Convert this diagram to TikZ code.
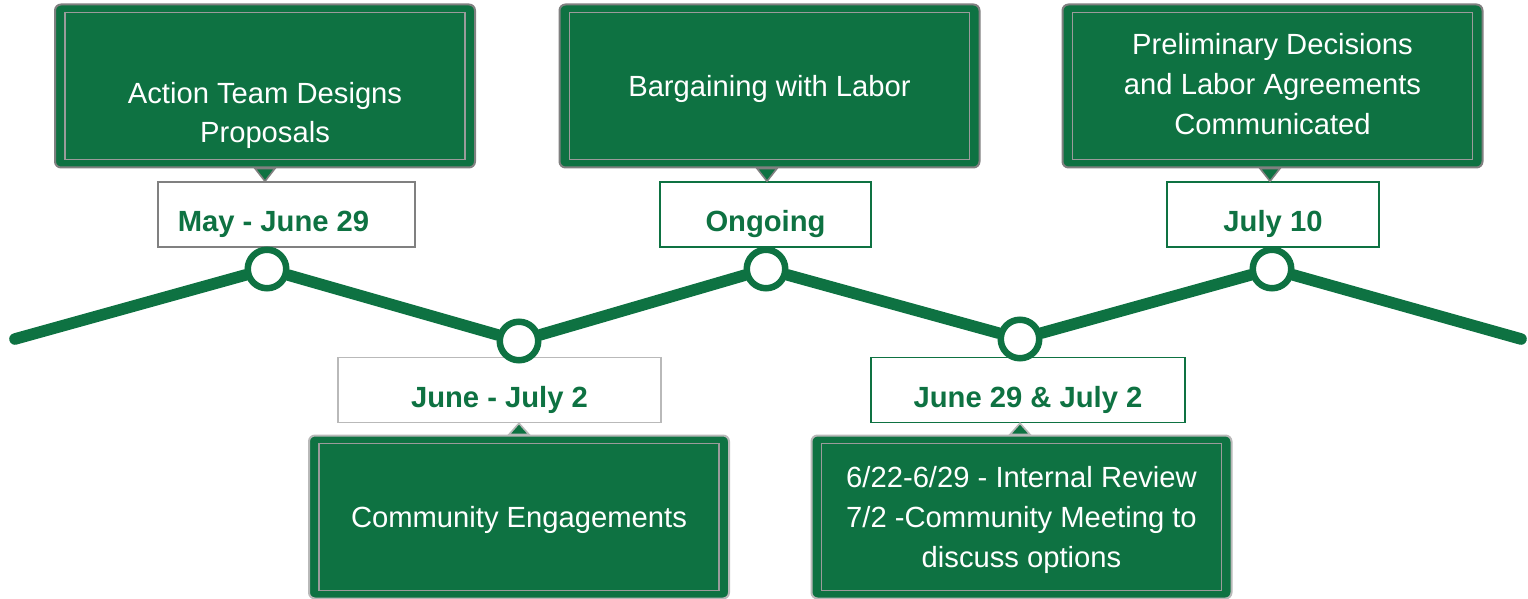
\documentclass[tikz,border=0pt]{standalone}
\usepackage{fontspec}
\setmainfont{Liberation Sans}
\usetikzlibrary{positioning}

\definecolor{tlgreen}{RGB}{14,114,66}
\definecolor{darkrim}{RGB}{128,128,128}
\definecolor{midrim}{RGB}{155,155,155}
\definecolor{lightrim}{RGB}{185,185,185}

\pgfdeclarelayer{back}
\pgfsetlayers{back,main}

\newcommand\evtfont{\fontsize{14.6}{20}\selectfont}
\newcommand\datefont{\fontsize{14.6}{20}\selectfont\bfseries}

\begin{document}
\begin{tikzpicture}[
                x=0.5pt, y=-0.5pt,
                eventbox/.style={rectangle,rounded corners=3pt,draw=darkrim,line width=1pt,fill=tlgreen,
                    minimum width=210pt,minimum height=81.5pt,text=white,align=center,font=\evtfont,
                    text depth=0pt,
                    path picture={\draw[midrim,line width=0.8pt,sharp corners]
                        ([shift={(10,8)}]path picture bounding box.north west) rectangle
                        ([shift={(-10,-8)}]path picture bounding box.south east);}},
                datebox/.style={rectangle,draw=#1,line width=0.8pt,fill=white,minimum height=32.5pt,
                    text height=17.5pt,text depth=0pt,text=tlgreen,font=\datefont},
                milestone/.style={circle,draw=tlgreen,line width=3.25pt,fill=white,minimum size=19.25pt,inner sep=0pt},
                pointer/.style={fill=tlgreen,draw=darkrim,line width=0.8pt,line join=miter},
                timeline/.style={draw=tlgreen,line width=5.8pt,line cap=round},
            ]
            \useasboundingbox (0,0) rectangle (1528,599);

            % Event boxes
            \node[eventbox] (E1) at (265,86) {\strut\\[3pt]Action Team Designs\\Proposals};
            \node[eventbox] (E2) at (769.5,86) {Bargaining with Labor};
            \node[eventbox,text depth=2.5pt] (E3) at (1272.5,86) {Preliminary Decisions\\and Labor Agreements\\Communicated};
            \node[eventbox,draw=lightrim] (E4) at (519,517) {Community Engagements};
            \node[eventbox,draw=lightrim] (E5) at (1021.5,517) {6/22-6/29 - Internal Review\\7/2 -Community Meeting to\\discuss options};

            % Dates
            \node[datebox=darkrim,minimum width=128.5pt] (D1) at (286.5,214.5) {May - June 29\hspace*{13pt}};
            \node[datebox=tlgreen,minimum width=105.5pt] (D2) at (765.5,214.5) {Ongoing};
            \node[datebox=tlgreen,minimum width=106pt] (D3) at (1273,214.5) {July 10};
            \node[datebox=lightrim,minimum width=161.5pt] (D4) at (499.5,390) {June - July 2};
            \node[datebox=tlgreen,minimum width=157pt] (D5) at (1028,390) {June 29 \& July 2};

            % Pointers from boxes to dates
            \filldraw[pointer] (E1.south) ++(-10,0) -- ++(20,0) -- (E1.south |- D1.north) -- cycle;
            \filldraw[pointer] (E2.south) ++(-12.5,0) -- ++(20,0) -- ([xshift=-1.25pt]E2.south |- D2.north) -- cycle;
            \filldraw[pointer] (E3.south) ++(-12.5,0) -- ++(20,0) -- ([xshift=-1.25pt]E3.south |- D3.north) -- cycle;
            \filldraw[pointer,draw=lightrim] (E4.north) ++(-10,0) -- ++(20,0) -- (E4.north |- D4.south) -- cycle;
            \filldraw[pointer,draw=lightrim] (E5.north) ++(-11.5,0) -- ++(20,0) -- ([xshift=-0.75pt]E5.north |- D5.south) -- cycle;

            % Milestones
            \node[milestone] (M1) at (267,269) {};
            \node[milestone] (M2) at (519,341) {};
            \node[milestone] (M3) at (766,269) {};
            \node[milestone] (M4) at (1020,339) {};
            \node[milestone] (M5) at (1272,269) {};
            \coordinate (T0) at (15,339);
            \coordinate (T6) at (1521,339);

            \begin{pgfonlayer}{back}
            \draw[timeline] (T0) -- (M1) -- (M2) -- (M3) -- (M4) -- (M5) -- (T6);
            \end{pgfonlayer}

            \end{tikzpicture}
\end{document}
